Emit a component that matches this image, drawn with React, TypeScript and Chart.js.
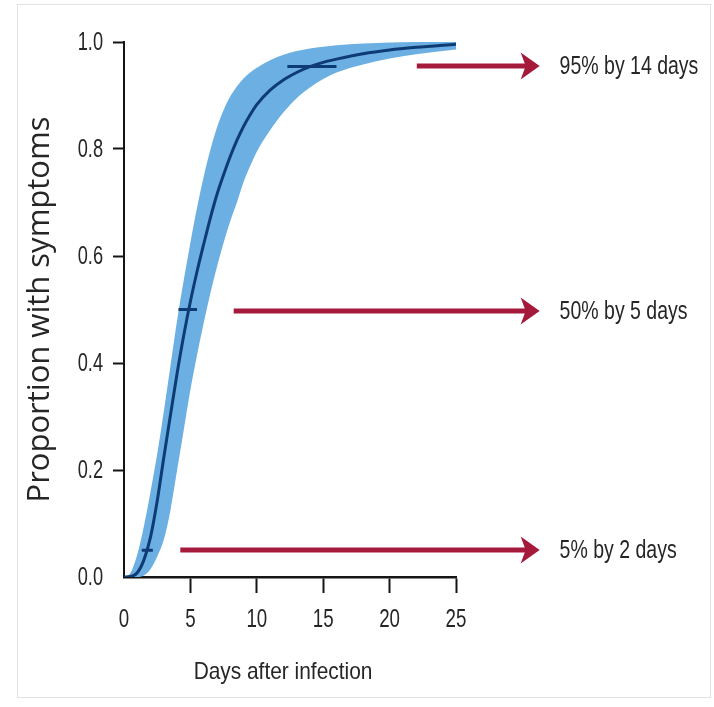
import React, { useEffect, useRef } from 'react';
import { Chart, registerables } from 'chart.js';

Chart.register(...registerables);

// ---- data ----
const days = [0, 0.5, 1, 1.5, 2, 2.5, 3, 3.5, 4, 4.5, 5, 5.5, 6, 6.5, 7, 7.5, 8, 8.5, 9, 9.5, 10, 11, 12, 13, 14, 15, 16, 18, 20, 22, 25];
const medianCurve = [0, 0.001, 0.008, 0.032, 0.075, 0.142, 0.224, 0.303, 0.381, 0.452, 0.515, 0.571, 0.622, 0.671, 0.715, 0.752, 0.786, 0.816, 0.842, 0.864, 0.883, 0.91, 0.929, 0.943, 0.954, 0.962, 0.968, 0.978, 0.985, 0.99, 0.996];
const upperBound = [0, 0.008, 0.042, 0.095, 0.16, 0.23, 0.31, 0.395, 0.48, 0.555, 0.625, 0.69, 0.748, 0.798, 0.84, 0.873, 0.898, 0.917, 0.932, 0.943, 0.952, 0.966, 0.976, 0.983, 0.988, 0.991, 0.994, 0.997, 0.999, 1.0, 1.0];
const lowerBound = [0, 0, 0, 0.003, 0.015, 0.038, 0.07, 0.125, 0.2, 0.275, 0.35, 0.415, 0.475, 0.53, 0.58, 0.625, 0.665, 0.7, 0.738, 0.768, 0.795, 0.835, 0.868, 0.895, 0.915, 0.931, 0.943, 0.958, 0.969, 0.977, 0.986];

const xTickValues = [0, 5, 10, 15, 20, 25];
const xTickLabels = ['0', '5', '10', '15', '20', '25'];
const yTickValues = [0, 0.2, 0.4, 0.6, 0.8, 1.0];
const yTickLabels = ['0.0', '0.2', '0.4', '0.6', '0.8', '1.0'];

const markerLevels = [0.05, 0.5, 0.954];
const markerFrom = [1.34, 4.1, 12.3];
const markerTo = [2.17, 5.5, 16.0];

const arrowLevels = [0.955, 0.497, 0.05];
const arrowFrom = [22.05, 8.26, 4.24];
const arrowTip = 31.3;
const labelDay = 32.8;
const arrowLabels = ['95% by 14 days', '50% by 5 days', '5% by 2 days'];

const xTitle = 'Days after infection';
const yTitle = 'Proportion with symptoms';

// ---- styles ----
const SANS = '"Liberation Sans", Arial, sans-serif';
const BAND = '#6cb0e3';
const NAVY = '#0e3b74';
const RED = '#a5193b';
const TEXT = '#262626';
const AXIS = '#151515';

function condensedText(ctx: CanvasRenderingContext2D, text: string, x: number, y: number, size: number, sx: number, align: CanvasTextAlign) {
  ctx.save();
  ctx.translate(x, y);
  ctx.scale(sx, 1);
  ctx.font = `${size}px ${SANS}`;
  ctx.fillStyle = TEXT;
  ctx.textAlign = align;
  ctx.textBaseline = 'middle';
  ctx.fillText(text, 0, 0);
  ctx.restore();
}

const annotationPlugin = {
  id: 'arrowsAndLabels',
  afterDatasetsDraw(chart: any) {
    const { ctx, scales } = chart;
    const x = scales.x;
    const y = scales.y;
    ctx.save();
    arrowLevels.forEach((lv, i) => {
      const py = Math.round(y.getPixelForValue(lv));
      const x0 = x.getPixelForValue(arrowFrom[i]);
      const x1 = x.getPixelForValue(arrowTip);
      ctx.strokeStyle = RED;
      ctx.lineWidth = 5;
      ctx.beginPath();
      ctx.moveTo(x0, py);
      ctx.lineTo(x1 - 12, py);
      ctx.stroke();
      ctx.fillStyle = RED;
      ctx.beginPath();
      ctx.moveTo(x1, py);
      ctx.lineTo(x1 - 19, py - 13.5);
      ctx.lineTo(x1 - 14, py);
      ctx.lineTo(x1 - 19, py + 13.5);
      ctx.closePath();
      ctx.fill();
      condensedText(ctx, arrowLabels[i], x.getPixelForValue(labelDay), py + 1, 25, 0.78, 'left');
    });
    ctx.restore();
  },
  afterDraw(chart: any) {
    const { ctx, scales, chartArea } = chart;
    const x = scales.x;
    const y = scales.y;
    xTickValues.forEach((v, i) => {
      condensedText(ctx, xTickLabels[i], x.getPixelForValue(v), x.top + 43, 26, 0.72, 'center');
    });
    yTickValues.forEach((v, i) => {
      condensedText(ctx, yTickLabels[i], y.right - 21, y.getPixelForValue(v) + 1, 26, 0.7, 'right');
    });
    condensedText(ctx, xTitle, (chartArea.left + chartArea.right) / 2 - 7, x.top + 95, 24, 0.87, 'center');
  },
};

export default function App() {
  const canvasRef = useRef<HTMLCanvasElement | null>(null);

  useEffect(() => {
    const canvas = canvasRef.current;
    if (!canvas) return;

    const pts = (vals: number[]) => days.map((d, i) => ({ x: d, y: vals[i] }));

    const markerSets = markerLevels.map((lv, i) => ({
      label: 'marker' + i,
      data: [
        { x: markerFrom[i], y: lv },
        { x: markerTo[i], y: lv },
      ],
      borderColor: NAVY,
      borderWidth: 3,
      pointRadius: 0,
      fill: false,
    }));

    const hideZero = (c: any) => (c.tick && c.tick.value === 0 ? 'rgba(0,0,0,0)' : AXIS);

    const chart = new Chart(canvas, {
      type: 'line',
      data: {
        datasets: [
          ...markerSets,
          {
            label: 'median',
            data: pts(medianCurve),
            borderColor: NAVY,
            borderWidth: 3,
            pointRadius: 0,
            cubicInterpolationMode: 'monotone',
            fill: false,
          },
          {
            label: 'upper',
            data: pts(upperBound),
            borderColor: BAND,
            borderWidth: 0,
            backgroundColor: BAND,
            pointRadius: 0,
            cubicInterpolationMode: 'monotone',
            fill: '+1',
          },
          {
            label: 'lower',
            data: pts(lowerBound),
            borderColor: BAND,
            borderWidth: 0,
            pointRadius: 0,
            cubicInterpolationMode: 'monotone',
            fill: false,
          },
        ],
      } as any,
      options: {
        animation: false,
        responsive: false,
        maintainAspectRatio: false,
        layout: { padding: { left: 0, top: 42, right: 258, bottom: 0 } },
        plugins: {
          legend: { display: false },
          tooltip: { enabled: false },
        },
        scales: {
          x: {
            type: 'linear',
            min: 0,
            max: 25,
            afterFit: (s: any) => {
              s.height = 130;
            },
            afterBuildTicks: (s: any) => {
              s.ticks = xTickValues.map((v) => ({ value: v }));
            },
            ticks: { display: false },
            grid: {
              display: true,
              drawOnChartArea: false,
              drawTicks: true,
              tickLength: 16,
              tickWidth: 2,
              tickColor: hideZero,
            },
            border: { display: true, color: AXIS, width: 2.5 },
            title: { display: false },
          },
          y: {
            type: 'linear',
            min: 0,
            max: 1,
            afterFit: (s: any) => {
              s.width = 124;
            },
            afterBuildTicks: (s: any) => {
              s.ticks = yTickValues.map((v) => ({ value: v }));
            },
            ticks: { display: false },
            grid: {
              display: true,
              drawOnChartArea: false,
              drawTicks: true,
              tickLength: 11,
              tickWidth: 2,
              tickColor: hideZero,
            },
            border: { display: true, color: AXIS, width: 2 },
            title: {
              display: true,
              text: yTitle,
              color: TEXT,
              font: { family: '"Open Sans", "Noto Sans", sans-serif', size: 31 },
              padding: { top: 22, bottom: 0 },
            },
          },
        },
      } as any,
      plugins: [annotationPlugin],
    });

    return () => chart.destroy();
  }, []);

  return (
    <div style={{ position: 'fixed', left: 0, top: 0, width: 714, height: 707, background: '#fff', overflow: 'hidden' }}>
      <div
        style={{
          position: 'absolute',
          left: 17,
          top: 4,
          width: 692,
          height: 692,
          border: '1px solid #e3e3e3',
        }}
      />
      <canvas ref={canvasRef} width={714} height={707} style={{ position: 'absolute', left: 0, top: 0 }} />
    </div>
  );
}
